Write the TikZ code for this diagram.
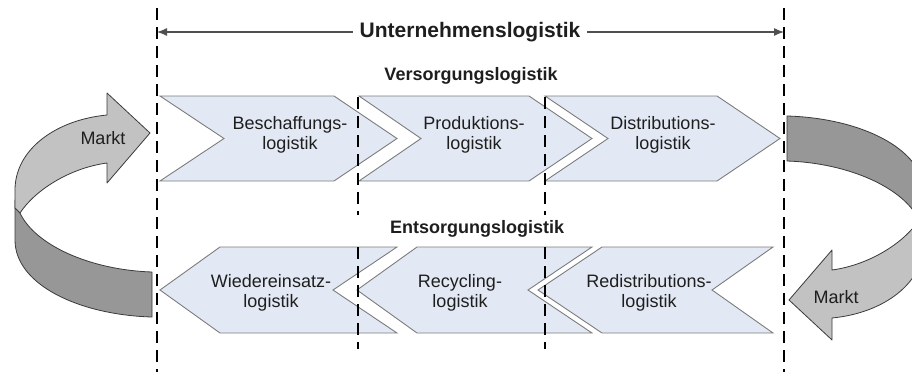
\documentclass[tikz,border=0pt]{standalone}
\usepackage{fontspec}
\setmainfont{Liberation Sans}
\usetikzlibrary{arrows.meta}
\definecolor{chev}{HTML}{E3E9F4}
\definecolor{chevline}{HTML}{7C7C7C}
\definecolor{mlight}{HTML}{C2C2C2}
\definecolor{mdark}{HTML}{979797}
\definecolor{mline}{HTML}{3A3A3A}
\definecolor{arrline}{HTML}{505050}
\definecolor{txt}{HTML}{1E1E1E}
\newcommand{\marktribbon}{%
  \path[ribbondark] (15,200) -- (15,240) .. controls (15,285) and (80,315) .. (152,317)
     -- (152,272) .. controls (90,270) and (35,245) .. (20,213) -- cycle;
  \path[ribbonlight] (107,115) -- (107,93) -- (150,133) -- (107,183) -- (107,163)
     .. controls (70,168) and (35,190) .. (20,213) -- (15,208) -- (15,190)
     .. controls (15,150) and (55,120) .. (107,115) -- cycle;
}
\begin{document}
\begin{tikzpicture}[x=1pt,y=-1pt,
  chevron/.style={fill=chev,draw=chevline,line width=0.9pt,line join=miter},
  guide/.style={draw=black,line width=1.6pt,dash pattern=on 12pt off 7pt},
  label/.style={font=\fontsize{18}{20}\selectfont,align=center,text=txt,inner sep=0pt},
  head/.style={font=\fontsize{18}{20}\selectfont\bfseries,text=txt,inner sep=0pt},
  title/.style={font=\fontsize{21}{24}\selectfont\bfseries,text=txt,inner xsep=7pt,inner ysep=2pt},
  ribbonlight/.style={fill=mlight,draw=mline,line width=0.8pt,line join=round},
  ribbondark/.style={fill=mdark,draw=mline,line width=0.8pt,line join=round},
  toparrow/.style={draw=arrline,line width=1.2pt,-{Latex[length=10pt,width=8pt]}}
]
\useasboundingbox (0,0) rectangle (912,372);
\clip (0,0) rectangle (912,372);

% Markt ribbons
\marktribbon
\begin{scope}[rotate around={180:(469.5,216.5)}]
  \marktribbon
\end{scope}

% Versorgung chevrons (pointing right)
\path[chevron] (160,96) -- (334,96) -- (397,138.5) -- (334,181) -- (160,181) -- (224,138.5) -- cycle;
\path[chevron] (359,96) -- (529,96) -- (592,138.5) -- (529,181) -- (359,181) -- (421,138.5) -- cycle;
\path[chevron] (545,96) -- (717,96) -- (780,138.5) -- (717,181) -- (545,181) -- (608,138.5) -- cycle;

% Entsorgung chevrons (pointing left)
\path[chevron] (160,290) -- (220,247) -- (397,247) -- (333,290) -- (397,333) -- (220,333) -- cycle;
\path[chevron] (357,290) -- (417,247) -- (592,247) -- (528,290) -- (592,333) -- (417,333) -- cycle;
\path[chevron] (538,290) -- (602,247) -- (773,247) -- (712,290) -- (773,333) -- (602,333) -- cycle;

% guide lines
\coordinate (gLt) at (157,8);   \coordinate (gLb) at (157,372);
\coordinate (gRt) at (784,8);   \coordinate (gRb) at (784,372);
\coordinate (m1t) at (358,97);  \coordinate (m1m) at (358,215);
\coordinate (m1u) at (358,247); \coordinate (m1b) at (358,349);
\coordinate (m2t) at (545,97);  \coordinate (m2m) at (545,215);
\coordinate (m2u) at (545,247); \coordinate (m2b) at (545,349);
\draw[guide] (gLt) -- (gLb);
\draw[guide] (gRt) -- (gRb);
\draw[guide] (m1t) -- (m1m);
\draw[guide] (m1u) -- (m1b);
\draw[guide] (m2t) -- (m2m);
\draw[guide] (m2u) -- (m2b);

% title arrow
\node[title] (ul) at (470,32) {Unternehmenslogistik};
\coordinate (aL) at (157,32);
\coordinate (aR) at (784,32);
\draw[toparrow] (ul.west) -- (aL);
\draw[toparrow] (ul.east) -- (aR);

% headings
\node[head] (vl) at (471,76) {Versorgungslogistik};
\node[head] (el) at (477,229) {Entsorgungslogistik};

% chevron labels
\node[label] (b1) at (290,135) {Beschaffungs-\\logistik};
\node[label] (b2) at (474,135) {Produktions-\\logistik};
\node[label] (b3) at (663,135) {Distributions-\\logistik};
\node[label] (e1) at (271,293) {Wiedereinsatz-\\logistik};
\node[label] (e2) at (460,293) {Recycling-\\logistik};
\node[label] (e3) at (649,293) {Redistributions-\\logistik};

% Markt labels
\node[label] (mk1) at (103,138) {Markt};
\node[label] (mk2) at (836,297) {Markt};
\end{tikzpicture}
\end{document}
